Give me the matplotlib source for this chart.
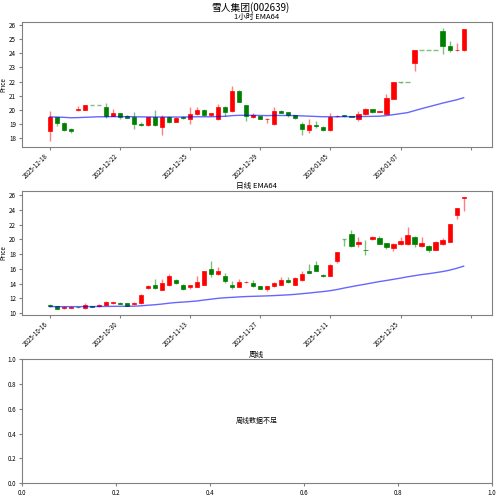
import matplotlib
matplotlib.use("Agg")
from matplotlib import pyplot as plt
import numpy as np

plt.rcParams['font.family'] = ['Noto Sans CJK SC', 'DejaVu Sans']
plt.rcParams['axes.unicode_minus'] = False

# 1 hour bars (60)
h_open = [18.5, 19.5, 19.1, 18.65, 20.0, 20.02, 20.35, 20.35, 20.2, 19.6,
          19.78, 19.55, 19.5, 19.0, 18.93, 19.48, 18.82, 19.5, 19.15, 19.48,
          19.35, 19.7, 20.0, 19.62, 19.35, 20.2, 19.93, 21.35, 20.35, 19.5,
          19.58, 19.35, 19.0, 19.95, 19.85, 19.62, 19.0, 18.63, 18.92, 18.83,
          18.6, 19.55, 19.62, 19.57, 19.37, 19.72, 20.08, 19.85, 19.72, 20.8,
          22.0, 22.0, 23.3, 24.2, 24.2, 24.2, 25.55, 24.5, 24.2, 24.22]
h_high = [19.95, 19.5, 19.15, 18.75, 20.3, 20.38, 20.35, 20.35, 20.5, 20.05,
          19.8, 19.62, 19.85, 19.15, 19.5, 20.0, 19.65, 19.55, 19.48, 19.6,
          20.25, 20.2, 20.05, 19.8, 20.4, 20.3, 21.7, 21.38, 20.38, 19.78,
          19.6, 19.42, 20.2, 20.03, 19.88, 19.65, 19.18, 19.35, 19.2, 18.85,
          19.78, 19.68, 19.68, 19.58, 19.95, 20.15, 20.1, 19.97, 21.15, 22.0,
          22.0, 22.0, 24.22, 24.2, 24.2, 24.2, 25.8, 24.88, 24.7, 25.72]
h_low = [17.8, 18.9, 18.55, 18.42, 19.97, 20.0, 20.35, 20.35, 19.45, 19.58,
         19.4, 19.42, 18.7, 18.85, 18.9, 18.88, 18.25, 19.08, 19.13, 19.35,
         19.05, 19.68, 19.6, 19.6, 19.32, 19.55, 19.9, 20.55, 19.22, 19.47,
         19.35, 19.1, 18.98, 19.77, 19.52, 19.38, 18.25, 18.42, 18.72, 18.55,
         18.55, 19.5, 19.52, 19.5, 19.2, 19.65, 19.8, 19.83, 19.7, 20.75,
         21.88, 22.0, 22.75, 24.2, 24.2, 24.2, 23.92, 24.1, 24.15, 24.15]
h_close = [19.5, 19.08, 18.6, 18.5, 20.08, 20.35, 20.35, 20.35, 19.55, 19.78,
           19.52, 19.45, 19.0, 18.95, 19.48, 18.98, 19.52, 19.15, 19.45, 19.42,
           19.7, 20.0, 19.65, 19.78, 20.2, 19.88, 21.35, 20.6, 19.55, 19.62,
           19.4, 19.4, 19.95, 19.82, 19.62, 19.42, 18.65, 18.92, 18.85, 18.6,
           19.5, 19.6, 19.57, 19.53, 19.7, 20.05, 19.85, 19.95, 20.83, 21.98,
           22.0, 22.0, 24.2, 24.2, 24.2, 24.2, 24.5, 24.22, 24.25, 25.7]
h_ema = [19.52, 19.51, 19.49, 19.46, 19.47, 19.49, 19.51, 19.53, 19.53, 19.54,
         19.54, 19.54, 19.53, 19.52, 19.52, 19.51, 19.51, 19.51, 19.51, 19.51,
         19.52, 19.53, 19.53, 19.53, 19.55, 19.56, 19.61, 19.63, 19.63, 19.63,
         19.62, 19.61, 19.62, 19.62, 19.62, 19.61, 19.59, 19.57, 19.55, 19.53,
         19.53, 19.53, 19.54, 19.54, 19.54, 19.55, 19.56, 19.57, 19.61, 19.68,
         19.75, 19.82, 19.96, 20.10, 20.23, 20.36, 20.49, 20.61, 20.72, 20.87]
h_ticklabels = ['2025-12-18', '2025-12-22', '2025-12-25', '2025-12-29',
                '2026-01-05', '2026-01-07', '']

# daily bars (60)
d_open = [11.15, 10.9, 10.65, 10.68, 10.8, 10.7, 10.92, 10.9, 11.1, 11.3,
          11.4, 11.3, 11.2, 11.3, 13.4, 13.85, 13.15, 13.85, 14.5, 13.75,
          13.5, 13.55, 13.86, 16.0, 15.3, 15.05, 13.8, 13.6, 14.15, 14.1,
          13.65, 13.2, 13.65, 13.82, 14.45, 13.78, 14.45, 15.68, 16.55, 15.2,
          15.05, 17.0, 20.0, 20.68, 19.32, 18.57, 20.0, 20.18, 19.5, 18.82,
          19.32, 19.32, 20.32, 19.05, 19.05, 18.6, 19.42, 19.68, 23.3, 25.55]
d_high = [11.2, 10.95, 10.9, 10.9, 10.85, 11.3, 10.95, 11.2, 11.6, 11.55,
          11.45, 11.35, 11.55, 12.55, 13.8, 14.65, 14.65, 15.3, 14.6, 13.95,
          13.85, 15.05, 15.75, 17.05, 16.2, 15.5, 14.3, 14.6, 14.35, 14.5,
          13.7, 13.7, 14.2, 14.85, 14.95, 14.85, 15.7, 16.6, 17.0, 15.3,
          16.6, 18.25, 20.0, 21.3, 20.3, 19.95, 20.4, 20.5, 19.55, 19.5,
          20.3, 21.65, 20.4, 20.3, 19.3, 19.8, 20.15, 22.1, 24.22, 25.8]
d_low = [10.85, 10.5, 10.6, 10.65, 10.75, 10.5, 10.85, 10.88, 11.05, 11.28,
         11.2, 10.98, 11.15, 11.25, 13.3, 13.3, 13.1, 13.7, 13.95, 13.1,
         13.2, 13.5, 13.8, 14.9, 15.1, 14.1, 13.2, 13.5, 14.1, 13.55,
         13.25, 13.0, 13.6, 13.75, 14.1, 13.75, 14.35, 15.4, 15.65, 14.92,
         15.0, 16.85, 19.1, 19.0, 19.0, 17.85, 19.98, 19.35, 18.7, 18.4,
         19.2, 19.3, 19.0, 19.0, 18.3, 18.55, 19.3, 19.65, 22.75, 23.9]
d_close = [10.9, 10.58, 10.85, 10.85, 10.78, 11.08, 10.88, 11.12, 11.45, 11.45,
           11.25, 11.02, 11.35, 12.48, 13.72, 13.35, 14.05, 15.0, 14.05, 13.25,
           13.75, 14.25, 15.7, 15.3, 15.68, 14.35, 13.6, 14.2, 14.27, 13.65,
           13.3, 13.62, 14.13, 14.5, 14.2, 14.82, 15.36, 15.48, 15.75, 14.98,
           16.55, 18.23, 20.0, 19.05, 19.6, 18.53, 20.36, 19.42, 18.96, 19.42,
           19.82, 20.55, 19.42, 19.5, 18.6, 19.6, 19.95, 22.05, 24.2, 25.75]
d_ema = [10.88, 10.87, 10.87, 10.87, 10.87, 10.88, 10.88, 10.89, 10.9, 10.91,
         10.92, 10.92, 10.93, 10.98, 11.06, 11.13, 11.22, 11.34, 11.43, 11.49,
         11.56, 11.64, 11.77, 11.88, 12.0, 12.08, 12.13, 12.19, 12.24, 12.27,
         12.3, 12.33, 12.37, 12.42, 12.47, 12.54, 12.63, 12.72, 12.82, 12.92,
         13.04, 13.2, 13.4, 13.58, 13.76, 13.92, 14.1, 14.27, 14.42, 14.58,
         14.74, 14.92, 15.07, 15.22, 15.34, 15.48, 15.63, 15.82, 16.07, 16.36]
d_ticklabels = ['2025-10-16', '2025-10-30', '2025-11-13', '2025-11-27',
                '2025-12-11', '2025-12-25', '']

UP = '#ff0000'
DOWN = '#008000'
EDGE = '#808080'


def candles(ax, o, h, l, c, ema, ticklabels, title):
    o = np.array(o); h = np.array(h); l = np.array(l); c = np.array(c)
    x = np.arange(len(o))
    up = c > o
    cols = np.where(up, UP, DOWN)
    # wicks
    ax.vlines(x, l, h, colors=cols, linewidth=1, alpha=0.5)
    # bodies
    flat = c == o
    body = ~flat
    ax.bar(x[body], (c - o)[body], bottom=o[body], width=0.6,
           color=cols[body], edgecolor=cols[body], linewidth=0.5)
    ax.hlines(c[flat], x[flat] - 0.3, x[flat] + 0.3, colors=DOWN,
              linewidth=1, alpha=0.5)
    ax.plot(x, ema, color='blue', linewidth=1, alpha=0.6)
    ax.set_xlim(-4, 63)
    ax.set_xticks(range(0, 61, 10))
    ax.set_xticklabels(ticklabels, rotation=45, ha='right')
    ax.set_ylabel('Price', fontsize=4.5)
    ax.yaxis.set_label_coords(-0.03, 0.5)
    ax.set_title(title, fontsize=5.5, pad=2)


fig = plt.figure(figsize=(5.0, 4.97), dpi=100)
ax1 = fig.add_axes([0.0434, 0.7042, 0.9400, 0.2515])
ax2 = fig.add_axes([0.0434, 0.3662, 0.9400, 0.2495])
ax3 = fig.add_axes([0.0434, 0.0276, 0.9400, 0.2495])

candles(ax1, h_open, h_high, h_low, h_close, h_ema, h_ticklabels, '1小时 EMA64')
candles(ax2, d_open, d_high, d_low, d_close, d_ema, d_ticklabels, '日线 EMA64')

ax3.set_title('周线', fontsize=5.5, pad=2)
ax3.text(0.5, 0.5, '周线数据不足', ha='center', va='center', fontsize=5,
         transform=ax3.transAxes)

for ax in (ax1, ax2, ax3):
    for s in ax.spines.values():
        s.set_color(EDGE)
    ax.tick_params(labelsize=4.5, color=EDGE, length=2.5, pad=1.5)

fig.suptitle('雪人集团(002639)', fontsize=7, y=0.984, va='center')

fig.savefig('out.png', dpi=100)
